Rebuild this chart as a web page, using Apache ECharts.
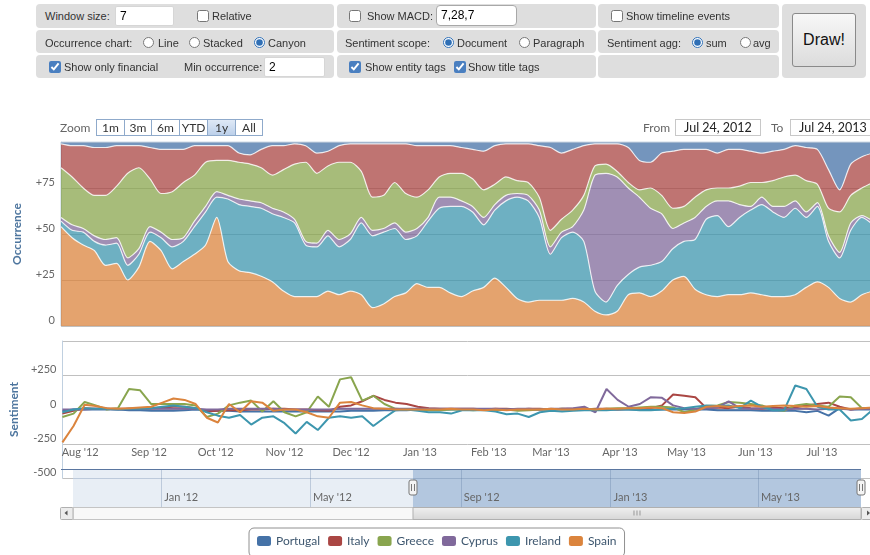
<!DOCTYPE html>
<html>
<head>
<meta charset="utf-8">
<script src="https://cdn.jsdelivr.net/npm/echarts@6/dist/echarts.min.js"></script>
<style>
  html,body{margin:0;padding:0;}
  body{width:870px;height:555px;overflow:hidden;position:relative;background:#fff;}
  #chart{position:absolute;left:0;top:0;width:880px;height:555px;}
  .p{position:absolute;background:#dedede;border-radius:4px;}
  .t{position:absolute;font:11px "Liberation Sans",Arial,sans-serif;color:#333;white-space:nowrap;line-height:14px;}
  .ck{position:absolute;margin:0;width:12px;height:12px;accent-color:#4a7fc0;}
  .rd{position:absolute;margin:0;width:11px;height:11px;accent-color:#2f6fb5;}
  .inp{position:absolute;background:#fff;border:1px solid #d6d6d6;border-radius:2px;font:12px "Liberation Sans",Arial,sans-serif;color:#000;padding-left:4px;box-sizing:border-box;line-height:18px;}
  .btn{position:absolute;left:792px;top:13px;width:64px;height:54px;box-sizing:border-box;border:1px solid #8a8a8a;border-radius:3px;background:linear-gradient(#f7f7f7,#dcdcdc);font:16px "Liberation Sans",Arial,sans-serif;color:#111;text-align:center;line-height:52px;}
  .ui{position:absolute;font:12px Lato,"Open Sans",sans-serif;white-space:nowrap;z-index:5;}
  .zb{position:absolute;top:119px;height:17px;box-sizing:border-box;border:1px solid #8faacb;background:#fff;color:#333;text-align:center;line-height:15px;font:12px Lato,sans-serif;z-index:5;}
  .zb.sel{background:linear-gradient(#dfe9f6,#bcd0ea);}
  .db{position:absolute;top:119px;height:17px;width:86px;box-sizing:border-box;border:1px solid #c8c8c8;background:#fff;color:#222;text-align:center;line-height:15px;font:12.5px Lato,sans-serif;z-index:5;}
</style>
</head>
<body>
<div id="chart"></div>

<!-- control panel -->
<div class="p" style="left:36px;top:4px;width:298px;height:24px"></div>
<div class="p" style="left:337px;top:4px;width:259px;height:24px"></div>
<div class="p" style="left:598px;top:4px;width:181px;height:24px"></div>
<div class="p" style="left:36px;top:30px;width:298px;height:23px"></div>
<div class="p" style="left:337px;top:30px;width:259px;height:23px"></div>
<div class="p" style="left:598px;top:30px;width:181px;height:23px"></div>
<div class="p" style="left:36px;top:55px;width:298px;height:23px"></div>
<div class="p" style="left:337px;top:55px;width:259px;height:23px"></div>
<div class="p" style="left:598px;top:55px;width:181px;height:23px"></div>
<div class="p" style="left:782px;top:4px;width:84px;height:74px"></div>

<div class="t" style="left:45px;top:9px">Window size:</div>
<div class="inp" style="left:115px;top:6px;width:59px;height:20px">7</div>
<input type="checkbox" class="ck" style="left:197px;top:10px">
<div class="t" style="left:212px;top:9px">Relative</div>
<input type="checkbox" class="ck" style="left:349px;top:10px">
<div class="t" style="left:367px;top:9px">Show MACD:</div>
<div class="inp" style="left:436px;top:5px;width:81px;height:21px;border-color:#a8a8a8;border-radius:4px">7,28,7</div>
<input type="checkbox" class="ck" style="left:611px;top:10px">
<div class="t" style="left:626px;top:9px">Show timeline events</div>

<div class="t" style="left:45px;top:36px">Occurrence chart:</div>
<input type="radio" class="rd" name="oc" style="left:143px;top:37px">
<div class="t" style="left:158px;top:36px">Line</div>
<input type="radio" class="rd" name="oc" style="left:189px;top:37px">
<div class="t" style="left:203px;top:36px">Stacked</div>
<input type="radio" class="rd" name="oc" checked style="left:254px;top:37px">
<div class="t" style="left:268px;top:36px">Canyon</div>
<div class="t" style="left:345px;top:36px">Sentiment scope:</div>
<input type="radio" class="rd" name="ss" checked style="left:443px;top:37px">
<div class="t" style="left:457px;top:36px">Document</div>
<input type="radio" class="rd" name="ss" style="left:519px;top:37px">
<div class="t" style="left:533px;top:36px">Paragraph</div>
<div class="t" style="left:607px;top:36px">Sentiment agg:</div>
<input type="radio" class="rd" name="sa" checked style="left:692px;top:37px">
<div class="t" style="left:706px;top:36px">sum</div>
<input type="radio" class="rd" name="sa" style="left:740px;top:37px">
<div class="t" style="left:753px;top:36px">avg</div>

<input type="checkbox" class="ck" checked style="left:49px;top:61px">
<div class="t" style="left:64px;top:60px">Show only financial</div>
<div class="t" style="left:184px;top:60px">Min occurrence:</div>
<div class="inp" style="left:264px;top:57px;width:61px;height:20px">2</div>
<input type="checkbox" class="ck" checked style="left:349px;top:61px">
<div class="t" style="left:365px;top:60px">Show entity tags</div>
<input type="checkbox" class="ck" checked style="left:454px;top:61px">
<div class="t" style="left:468px;top:60px">Show title tags</div>

<div class="btn">Draw!</div>

<!-- range selector -->
<div class="ui" style="left:60px;top:120px;color:#666">Zoom</div>
<div class="zb" style="left:96px;width:29px">1m</div>
<div class="zb" style="left:124px;width:28px">3m</div>
<div class="zb" style="left:151px;width:29px">6m</div>
<div class="zb" style="left:179px;width:29px">YTD</div>
<div class="zb sel" style="left:207px;width:29px">1y</div>
<div class="zb" style="left:235px;width:28px">All</div>
<div class="ui" style="left:643px;top:120px;color:#666">From</div>
<div class="db" style="left:675px">Jul 24, 2012</div>
<div class="ui" style="left:771px;top:120px;color:#666">To</div>
<div class="db" style="left:790px">Jul 24, 2013</div>

<script>
// ---------------- data ----------------
const names = ['Portugal','Italy','Greece','Cyprus','Ireland','Spain'];
const colors = ['#4572A7','#AA4643','#89A54E','#80699B','#3D96AE','#DB843D'];

const dates = ['2012-07-24','2012-07-29','2012-08-03','2012-08-08','2012-08-13','2012-08-18','2012-08-23','2012-08-28',
 '2012-09-02','2012-09-07','2012-09-12','2012-09-17','2012-09-22','2012-09-27','2012-10-02','2012-10-07','2012-10-12',
 '2012-10-17','2012-10-22','2012-10-27','2012-11-01','2012-11-06','2012-11-11','2012-11-16','2012-11-21','2012-11-26',
 '2012-12-01','2012-12-06','2012-12-11','2012-12-16','2012-12-21','2012-12-26','2012-12-31','2013-01-05','2013-01-10',
 '2013-01-15','2013-01-20','2013-01-25','2013-01-30','2013-02-04','2013-02-09','2013-02-14','2013-02-19','2013-02-24',
 '2013-03-01','2013-03-06','2013-03-11','2013-03-16','2013-03-21','2013-03-26','2013-03-31','2013-04-05','2013-04-10',
 '2013-04-15','2013-04-20','2013-04-25','2013-04-30','2013-05-05','2013-05-10','2013-05-15','2013-05-20','2013-05-25',
 '2013-05-30','2013-06-04','2013-06-09','2013-06-14','2013-06-19','2013-06-24','2013-06-29','2013-07-04','2013-07-09',
 '2013-07-14','2013-07-19','2013-07-24'];

// Occurrence (canyon, share in %)
const occSpain    = [54,48,44,41,33,34,25,32,46,41,31,35,39,44,59,35,30,29,27,24,19,16,16,16,19,17,19,17,10,12,16,18,23,21,21,18,16,19,21,26,21,15,13,14,14,14,15,13,8,6,8,17,18,16,19,25,27,20,17,16,17,17,18,17,16,16,17,21,24,21,15,13,17,19];
const occIreland  = [3,4,7,5,11,11,8,7,5,7,12,11,15,18,11,34,36,36,37,37,40,40,28,27,30,26,28,39,39,39,37,29,26,36,43,47,49,43,34,37,47,55,55,45,25,34,36,33,11,7,14,11,14,17,16,17,19,27,41,44,37,42,45,49,46,43,47,38,41,25,22,39,42,36];
const occCyprus   = [2,3,2,3,3,3,4,3,3,3,4,2,3,3,3,2,3,3,3,3,3,2,2,2,3,4,3,3,3,2,3,4,4,2,6,5,3,3,4,3,3,2,3,4,4,3,3,17,63,70,59,47,38,31,26,11,10,12,7,8,14,7,2,4,3,6,4,3,2,3,3,4,1,2];
const occGreece   = [27,26,22,22,24,28,46,44,26,21,26,30,25,24,17,19,20,20,19,18,23,30,43,38,35,42,39,25,18,18,22,21,17,15,11,13,15,15,15,11,10,7,7,7,9,7,9,8,5,5,3,3,4,11,10,11,9,11,9,7,7,10,13,8,14,16,14,17,10,15,22,15,15,21];
const occItaly    = [13,17,23,26,26,22,15,12,17,24,23,18,16,9,8,8,5,5,10,16,13,11,9,11,8,9,10,15,29,28,21,27,28,24,17,15,14,16,21,21,18,20,21,28,45,36,33,27,12,11,15,19,16,14,23,31,31,26,22,19,21,20,17,16,16,15,16,18,19,21,12,17,17,16];
const occPortugal = [1,2,2,3,3,2,2,2,3,4,4,4,2,2,2,2,6,7,4,2,2,1,2,6,5,2,1,1,1,1,1,1,2,2,2,2,3,4,5,2,1,1,1,2,3,6,4,2,1,1,1,3,10,11,6,5,4,4,4,6,4,4,5,6,5,4,2,3,4,15,26,12,8,6];

// Sentiment (sum)
const senPortugal = [-10,0,0,0,0,0,-5,-5,-10,-10,-10,-5,0,-5,-10,-10,-15,-15,-15,-15,-15,-15,-15,-15,-15,-15,-10,-10,-10,-5,-5,-5,0,0,0,0,0,0,0,0,0,0,0,0,0,0,0,0,0,0,0,0,0,0,0,0,0,0,0,-5,-5,-5,-5,-10,-10,-10,-10,-20,-10,-45,10,0,0,0];
const senItaly    = [-30,-10,10,5,5,5,5,5,10,15,20,20,10,-15,-10,-5,-5,0,0,5,5,0,0,-5,-10,20,30,60,100,70,50,40,20,10,5,5,5,5,0,5,5,0,5,5,0,5,5,0,5,5,0,5,10,10,30,110,100,90,10,15,10,20,10,5,15,10,15,30,40,50,20,0,10,5];
const senGreece   = [-55,-30,55,30,0,10,150,140,40,40,40,40,30,-55,-30,30,50,65,-15,60,-20,-50,-20,95,20,220,235,65,100,40,5,0,0,-5,-5,0,0,-5,0,-5,0,-10,-5,0,0,5,0,5,0,5,10,10,15,20,20,15,-20,0,25,30,55,50,40,30,0,-10,30,40,30,20,95,90,10,10];
const senCyprus   = [0,0,0,5,5,0,5,5,5,5,5,5,5,0,0,5,5,5,5,5,0,0,0,0,0,5,5,5,5,5,5,5,5,5,5,5,5,5,5,5,0,5,5,0,5,5,10,20,-20,150,70,20,40,90,85,30,10,5,10,15,60,10,5,10,5,0,5,5,0,5,5,0,5,5];
const senIreland  = [-20,0,10,5,5,0,5,5,10,20,30,20,10,-20,-45,-60,-40,-110,-60,-50,-100,-175,-90,-150,-60,-50,-60,-50,-120,-60,-5,0,-10,-20,-20,-30,-5,-5,-5,-15,-35,-30,-55,-20,-10,-15,-10,-5,-5,-5,0,0,-5,-5,0,5,10,20,30,25,30,10,65,20,-5,-5,175,150,20,0,0,-80,-70,0];
const senSpain    = [-240,-120,35,25,10,5,10,15,20,50,80,70,40,-60,-95,40,-20,60,50,-10,0,0,-20,-50,-60,50,55,30,10,5,0,0,0,0,0,5,0,0,-5,0,-5,0,0,0,5,0,0,5,0,5,5,10,10,15,10,-20,-25,-15,20,25,20,25,30,20,25,30,25,20,25,15,10,5,10,15];

const monthTicks = ['2012-08-01','2012-09-01','2012-10-01','2012-11-01','2012-12-01','2013-01-01','2013-02-01','2013-03-01','2013-04-01','2013-05-01','2013-06-01','2013-07-01'];
const navTicks = ['2012-01-01','2012-05-01','2012-09-01','2013-01-01','2013-05-01'];
const rangeStart = '2012-07-24', rangeEnd = '2013-07-24', navStart = '2011-10-21';
const occTicks = {min:0, max:100, interval:25};
const senTicks = {min:-500, max:500, interval:250};

// ---------------- helpers ----------------
const MON = ['Jan','Feb','Mar','Apr','May','Jun','Jul','Aug','Sep','Oct','Nov','Dec'];
function ts(s){ const p = s.split('-').map(Number); return new Date(p[0], p[1]-1, p[2]).getTime(); }
function fmtMonth(v){ const d = new Date(v); return MON[d.getMonth()] + " '" + String(d.getFullYear()).slice(2); }
function pairs(vals){ return dates.map((d,i)=>[ts(d), vals[i]]); }
const FONT = 'Lato, "Open Sans", sans-serif';
const colorOf = n => colors[names.indexOf(n)];

const occData = {Spain:occSpain, Ireland:occIreland, Cyprus:occCyprus, Greece:occGreece, Italy:occItaly, Portugal:occPortugal};
const senData = {Portugal:senPortugal, Italy:senItaly, Greece:senGreece, Cyprus:senCyprus, Ireland:senIreland, Spain:senSpain};

const series = [];
['Spain','Ireland','Cyprus','Greece','Italy','Portugal'].forEach(n=>{
  series.push({
    name:n, type:'line', xAxisIndex:0, yAxisIndex:0, stack:'occ', data:pairs(occData[n]),
    showSymbol:false, smooth:0.25, color:colorOf(n), silent:true,
    lineStyle:{color:'rgba(255,255,255,0.8)', width:1.2},
    areaStyle:{color:colorOf(n), opacity:0.75}, z:2
  });
});
['Portugal','Italy','Greece','Cyprus','Ireland','Spain'].forEach(n=>{
  series.push({
    name:n, type:'line', xAxisIndex:1, yAxisIndex:1, data:pairs(senData[n]),
    showSymbol:false, color:colorOf(n), silent:true,
    lineStyle:{color:colorOf(n), width:2}, z:3
  });
});
// navigator grid lines
series.push({
  type:'line', xAxisIndex:2, yAxisIndex:2, data:[[ts(rangeStart),0.5]], showSymbol:false,
  lineStyle:{opacity:0}, silent:true, z:4,
  markLine:{silent:true, symbol:'none', label:{show:false},
    lineStyle:{color:'rgba(80,110,150,0.28)', width:1, type:'solid'},
    data: navTicks.map(t=>({xAxis:ts(t)})).concat([{yAxis:0.76}])}
});

const axisLbl = {color:'#666', fontSize:11, fontFamily:FONT};
const yLbl = {margin:6, verticalAlign:'bottom', lineHeight:11};

const option = {
  animation:false,
  backgroundColor:'#fff',
  grid:[
    {left:61, top:142, width:812, height:184, show:true, borderColor:'#c0d0e0', borderWidth:1, backgroundColor:'transparent'},
    {left:61, top:341, width:812, height:137},
    {left:73, top:469, width:788, height:38}
  ],
  xAxis:[
    {type:'time', gridIndex:0, min:ts(rangeStart), max:ts(rangeEnd), axisLabel:{show:false}, axisTick:{show:false}, axisLine:{show:false}, splitLine:{show:false}},
    {type:'value', gridIndex:1, min:ts(rangeStart), max:ts(rangeEnd), offset:-34, axisLine:{show:false}, axisTick:{show:false}, splitLine:{show:false},
      axisLabel:Object.assign({customValues:monthTicks.map(ts), formatter:fmtMonth, margin:3, hideOverlap:false, showMinLabel:true, showMaxLabel:true}, axisLbl)},
    {type:'value', gridIndex:2, min:ts(navStart), max:ts(rangeEnd), z:20, axisLine:{show:false}, axisTick:{show:false}, splitLine:{show:false},
      axisLabel:Object.assign({customValues:navTicks.map(ts), formatter:fmtMonth, inside:true, align:'left', padding:[0,0,0,3], margin:4, hideOverlap:false}, axisLbl)}
  ],
  yAxis:[
    {type:'value', gridIndex:0, min:occTicks.min, max:occTicks.max, interval:occTicks.interval,
      axisLine:{show:true, lineStyle:{color:'#c0d0e0'}}, axisTick:{show:false},
      splitLine:{lineStyle:{color:'#c0c0c0'}},
      axisLabel:Object.assign({}, yLbl, axisLbl, {formatter:v=> v===100?'':(v===0?'0':'+'+v)}),
      name:'Occurrence', nameLocation:'middle', nameGap:38, nameRotate:90,
      nameTextStyle:{color:'#4d759e', fontWeight:'bold', fontSize:12, fontFamily:FONT}},
    {type:'value', gridIndex:1, min:senTicks.min, max:senTicks.max, interval:senTicks.interval,
      axisLine:{show:true, lineStyle:{color:'#c0d0e0'}}, axisTick:{show:false},
      splitLine:{lineStyle:{color:'#c0c0c0'}},
      axisLabel:Object.assign({}, yLbl, axisLbl, {formatter:v=> v===500?'':(v>0?'+'+v:String(v))}),
      name:'Sentiment', nameLocation:'middle', nameGap:38, nameRotate:90,
      nameTextStyle:{color:'#4d759e', fontWeight:'bold', fontSize:12, fontFamily:FONT}},
    {type:'value', gridIndex:2, min:0, max:1, show:false}
  ],
  legend:{
    left:249, top:528, orient:'horizontal', icon:'roundRect', itemWidth:14, itemHeight:10, itemGap:8,
    padding:[7,8,10,8], borderColor:'#909090', borderWidth:1, borderRadius:5, selectedMode:false,
    textStyle:{color:'#3E576F', fontSize:12, fontFamily:FONT},
    data:names.map((n,i)=>({name:n, itemStyle:{color:colors[i]}}))
  },
  series:series
};

const chart = echarts.init(document.getElementById('chart'), null, {renderer:'canvas'});
chart.setOption(option);

// navigator frame, selection, handles and scrollbar (placed from the library's own scale)
const xs = chart.convertToPixel({xAxisIndex:2}, ts(rangeStart));
const xe = chart.convertToPixel({xAxisIndex:2}, ts(rangeEnd));
const navL = 73, navR = 861, navT = 469, navB = 507, sbT = 507, sbB = 519;
function handle(x){
  return {type:'group', z:20, children:[
    {type:'rect', z:20, shape:{x:x-4, y:480, width:8, height:15, r:2}, style:{fill:'#f4f4f4', stroke:'#777', lineWidth:1}},
    {type:'line', z:21, shape:{x1:x-1.5, y1:484, x2:x-1.5, y2:491}, style:{stroke:'#777', lineWidth:1}},
    {type:'line', z:21, shape:{x1:x+1.5, y1:484, x2:x+1.5, y2:491}, style:{stroke:'#777', lineWidth:1}}
  ]};
}
const cx = (xs+xe)/2;
chart.setOption({graphic:[
  {type:'rect', z:1, silent:true, shape:{x:navL, y:navT, width:navR-navL, height:navB-navT}, style:{fill:'#e8eef5'}},
  {type:'rect', z:2, silent:true, shape:{x:xs, y:navT, width:xe-xs, height:navB-navT}, style:{fill:'rgba(100,140,190,0.4)'}},
  {type:'rect', z:1, silent:true, shape:{x:56, y:479, width:17, height:28}, style:{fill:'#fff'}},
  {type:'line', z:15, silent:true, shape:{x1:61, y1:navT+0.5, x2:navR, y2:navT+0.5}, style:{stroke:'#5a76a0', lineWidth:1}},
  {type:'rect', z:15, silent:true, shape:{x:navL, y:sbT+0.5, width:navR-navL, height:sbB-sbT}, style:{fill:'#f8f8f8', stroke:'#c4c4c4'}},
  {type:'rect', z:16, silent:true, shape:{x:60.5, y:sbT+0.5, width:12.5, height:sbB-sbT, r:1}, style:{fill:'#ececec', stroke:'#b0b0b0'}},
  {type:'polygon', z:17, silent:true, shape:{points:[[64.5,513],[67.5,510.5],[67.5,515.5]]}, style:{fill:'#555'}},
  {type:'rect', z:16, silent:true, shape:{x:xs, y:sbT+0.5, width:xe-xs, height:sbB-sbT}, style:{fill:new echarts.graphic.LinearGradient(0,0,0,1,[{offset:0,color:'#f0f0f0'},{offset:1,color:'#d6d6d6'}]), stroke:'#b0b0b0'}},
  {type:'line', z:17, silent:true, shape:{x1:cx-3, y1:510.5, x2:cx-3, y2:515.5}, style:{stroke:'#999'}},
  {type:'line', z:17, silent:true, shape:{x1:cx, y1:510.5, x2:cx, y2:515.5}, style:{stroke:'#999'}},
  {type:'line', z:17, silent:true, shape:{x1:cx+3, y1:510.5, x2:cx+3, y2:515.5}, style:{stroke:'#999'}},
  {type:'rect', z:16, silent:true, shape:{x:xe+0.5, y:sbT+0.5, width:12.5, height:sbB-sbT, r:1}, style:{fill:'#ececec', stroke:'#b0b0b0'}},
  {type:'polygon', z:17, silent:true, shape:{points:[[xe+9,513],[xe+6,510.5],[xe+6,515.5]]}, style:{fill:'#555'}},
  handle(xs), handle(xe)
]});
</script>
</body>
</html>
